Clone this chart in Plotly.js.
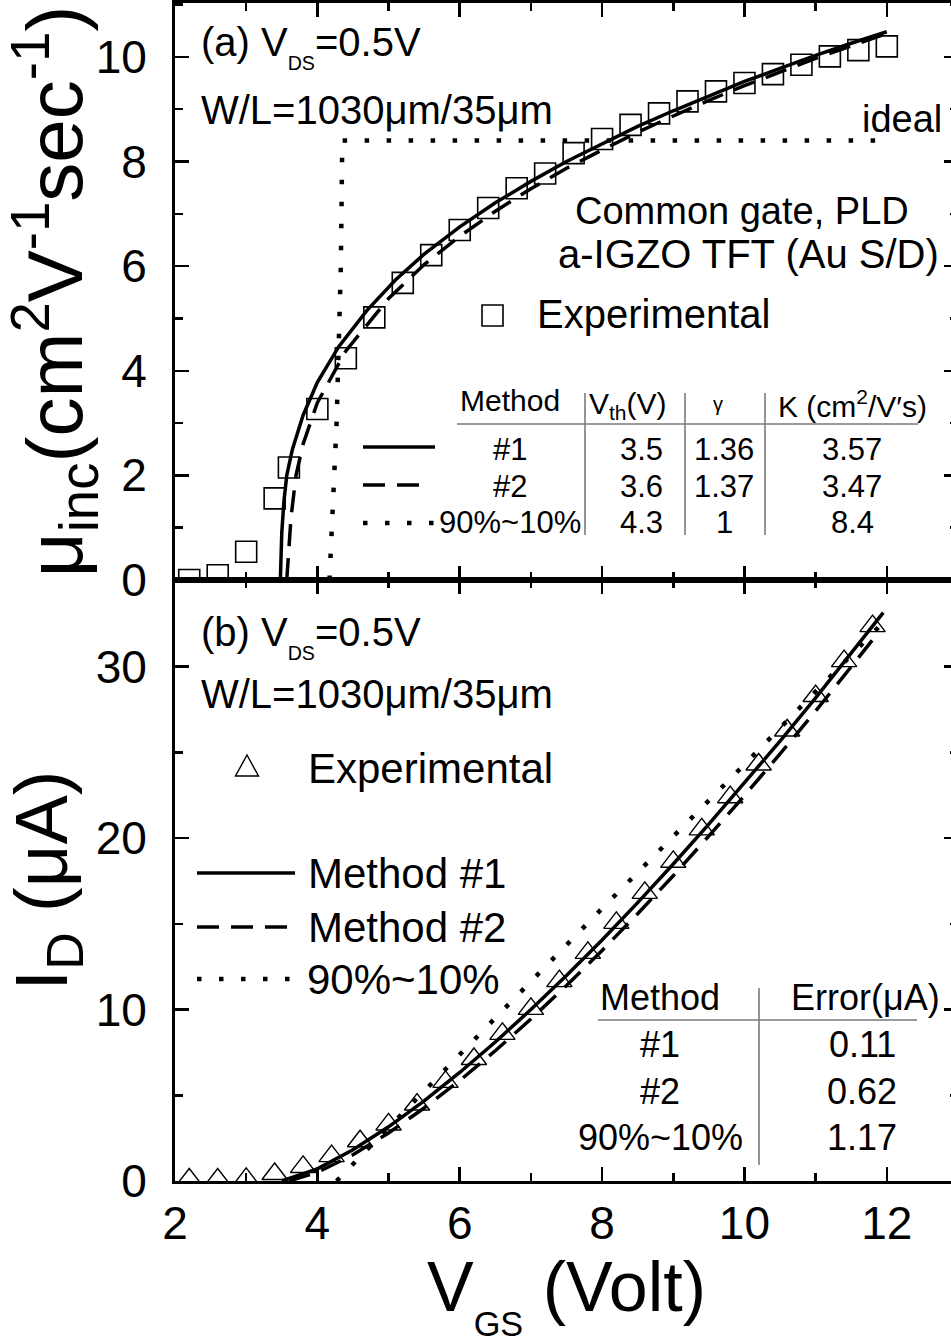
<!DOCTYPE html>
<html><head><meta charset="utf-8">
<script src="https://cdn.plot.ly/plotly-3.0.1.min.js"></script>
<style>html,body{margin:0;padding:0;overflow:hidden;background:#fff}</style>
</head><body>
<div id="chart" style="width:960px;height:1343px"></div>
<script>
// ---------- data ----------
// Panel (a): incremental mobility vs VGS
const muX   = [2.2,2.6,3.0,3.4,3.6,4.0,4.4,4.8,5.2,5.6,6.0,6.4,6.8,7.2,7.6,8.0,8.4,8.8,9.2,9.6,10.0,10.4,10.8,11.2,11.6,12.0];
const muExp = [0.0,0.09,0.54,1.56,2.15,3.27,4.24,5.02,5.68,6.21,6.69,7.11,7.49,7.77,8.16,8.43,8.70,8.92,9.15,9.34,9.50,9.67,9.85,10.01,10.13,10.20];
const mu1X  = [3.48,3.50,3.53,3.57,3.65,3.8,4.0,4.3,4.7,5.1,5.5,6.0,6.5,7.0,7.5,8.0,8.5,9.0,9.5,10.0,10.5,11.0,11.5,12.0];
const mu1   = [0,0.9,1.5,2.0,2.5,3.15,3.78,4.46,5.16,5.74,6.23,6.75,7.21,7.62,8.0,8.34,8.67,8.97,9.25,9.53,9.78,10.03,10.26,10.48];
const mu2X  = [3.57,3.60,3.63,3.70,3.8,4.0,4.4,5.0,5.5,6.0,6.5,7.0,7.5,8.0,8.5,9.0,9.5,10.0,10.5,11.0,11.5,12.0];
const mu2   = [0,0.6,1.2,2.0,2.6,3.39,4.38,5.38,6.03,6.57,7.05,7.48,7.87,8.22,8.56,8.87,9.17,9.45,9.71,9.97,10.21,10.45];
const mu3X  = [4.17,4.27,4.33,4.35,12.0];
const mu3   = [0,3.0,6.0,8.4,8.4];

// Panel (b): drain current vs VGS
const idX   = [2.2,2.6,3.0,3.4,3.8,4.2,4.6,5.0,5.4,5.8,6.2,6.6,7.0,7.4,7.8,8.2,8.6,9.0,9.4,9.8,10.2,10.6,11.0,11.4,11.8];
const idExp = [0.09,0.09,0.12,0.41,0.82,1.45,2.32,3.30,4.46,5.78,7.12,8.58,10.04,11.66,13.31,15.06,16.81,18.62,20.51,22.39,24.30,26.28,28.29,30.33,32.37];
const id1X  = [3.5,4.0,4.5,5.0,5.5,6.0,6.5,7.0,7.5,8.0,8.5,9.0,9.5,10.0,10.5,11.0,11.5,11.95];
const id1   = [0,0.71,1.82,3.16,4.67,6.33,8.11,10.0,11.99,14.06,16.24,18.49,20.82,23.21,25.66,28.18,30.78,33.16];
const id2X  = [3.6,4.0,4.5,5.0,5.5,6.0,6.5,7.0,7.5,8.0,8.5,9.0,9.5,10.0,10.5,11.0,11.5,11.9];
const id2   = [0,0.5,1.53,2.8,4.26,5.86,7.6,9.45,11.4,13.45,15.59,17.81,20.13,22.48,24.92,27.42,30.0,32.1];
const id3X  = [4.27,6.0,8.0,10.0,12.0];
const id3   = [0,7.4,15.9,24.3,32.8];

// table contents
const tabAHead = ['Method','V<sub>th</sub>(V)','γ','K (cm<sup>2</sup>/V′s)'];
const tabARows = [['#1','3.5','1.36','3.57'],['#2','3.6','1.37','3.47'],['90%~10%','4.3','1','8.4']];
const tabBHead = ['Method','Error(μA)'];
const tabBRows = [['#1','0.11'],['#2','0.62'],['90%~10%','1.17']];

// ---------- geometry helpers (pixel -> paper) ----------
const PL=175, PR=958, PT=3, PB=1181;
const px = x => (x-PL)/(PR-PL);
const py = y => (PB-y)/(PB-PT);
const SPLIT = py(580);
const FONT = 'Arial, "Liberation Sans", sans-serif';
const NB = '\u00A0';

const solid = {color:'black', width:3.5};
const dashed = {color:'black', width:3.5, dash:'22px,12px'};
const dotted = {color:'black', width:4.5, dash:'4.5px,17.5px'};

const traces = [
  {x:mu1X, y:mu1, xaxis:'x2', yaxis:'y2', mode:'lines', line:solid, name:'#1'},
  {x:mu2X, y:mu2, xaxis:'x2', yaxis:'y2', mode:'lines', line:dashed, name:'#2'},
  {x:mu3X, y:mu3, xaxis:'x2', yaxis:'y2', mode:'lines', line:dotted, name:'90%~10%'},
  {x:muX, y:muExp, xaxis:'x2', yaxis:'y2', mode:'markers', name:'Experimental',
   marker:{symbol:'square-open', size:21, color:'black', line:{width:1.6, color:'black'}}},
  {x:id1X, y:id1, xaxis:'x', yaxis:'y', mode:'lines', line:solid, name:'Method #1'},
  {x:id2X, y:id2, xaxis:'x', yaxis:'y', mode:'lines', line:dashed, name:'Method #2'},
  {x:id3X, y:id3, xaxis:'x', yaxis:'y', mode:'lines', line:dotted, name:'90%~10%'},
  {x:idX, y:idExp, xaxis:'x', yaxis:'y', mode:'markers', name:'Experimental',
   marker:{symbol:'triangle-up-open', size:22, color:'black', line:{width:1.4, color:'black'}}}
];

const axBase = {
  showline:true, linecolor:'black', linewidth:3, mirror:'allticks',
  ticks:'inside', ticklen:14, tickwidth:2.5, tickcolor:'black',
  showgrid:false, zeroline:false, automargin:false, fixedrange:true,
  tickfont:{family:FONT, size:46, color:'black'},
  ticklabelstandoff:16
};
const minor = (d) => ({ticks:'inside', ticklen:8, tickwidth:2.5, tickcolor:'black', dtick:d, showgrid:false});

const layout = {
  width:960, height:1343,
  margin:{l:PL, r:960-PR, t:PT, b:1343-PB},
  paper_bgcolor:'white', plot_bgcolor:'white',
  showlegend:false,
  font:{family:FONT, color:'black'},
  xaxis:Object.assign({}, axBase, {anchor:'y', domain:[0,1], range:[2,13], tick0:0, dtick:2, minor:minor(1),
    ticklabelstandoff:0,
    title:{text:NB+NB+'V<sub><sub>GS</sub></sub> (Volt)', font:{family:FONT, size:70, color:'black'}, standoff:16}}),
  yaxis:Object.assign({}, axBase, {anchor:'x', domain:[0,SPLIT], range:[0,35.06], tick0:0, dtick:10, minor:minor(5),
    title:{text:'I<sub>D</sub> (μA)'+NB+NB, font:{family:FONT, size:74, color:'black'}, standoff:4}}),
  xaxis2:Object.assign({}, axBase, {anchor:'y2', domain:[0,1], range:[2,13], tick0:0, dtick:2, minor:minor(1), showticklabels:false}),
  yaxis2:Object.assign({}, axBase, {anchor:'x2', domain:[SPLIT,1], range:[0,11.03], tick0:0, dtick:2, minor:minor(1),
    title:{text:'μ<sub>inc</sub>(cm<sup>2</sup>V<sup>-1</sup>sec<sup>-1</sup>)'+NB+NB, font:{family:FONT, size:78, color:'black'}, standoff:4}}),
  annotations:[], shapes:[]
};

function ann(text, x, y, size, xa){
  layout.annotations.push({text:text, xref:'paper', yref:'paper', x:px(x), y:py(y),
    xanchor:xa||'left', yanchor:'middle', showarrow:false,
    font:{family:FONT, size:size, color:'black'}});
}
function hline(x0,x1,y,line){ layout.shapes.push({type:'line', xref:'paper', yref:'paper', x0:px(x0), x1:px(x1), y0:py(y), y1:py(y), line:line}); }
function vline(x,y0,y1,line){ layout.shapes.push({type:'line', xref:'paper', yref:'paper', x0:px(x), x1:px(x), y0:py(y0), y1:py(y1), line:line}); }
const gray = {color:'#7a7a7a', width:1.6};

// ----- panel (a) text -----
ann('(a) V<sub><sub>DS</sub></sub>=0.5V', 199, 47, 40);
ann('W/L=1030μm/35μm', 199, 110, 40);
ann('ideal', 860, 119, 38);
ann('Common gate, PLD', 573, 211, 38);
ann('a-IGZO TFT (Au S/D)', 556, 254, 40);
ann('Experimental', 535, 314, 40);
layout.shapes.push({type:'rect', xref:'paper', yref:'paper', x0:px(482), x1:px(503), y0:py(305), y1:py(326), line:{color:'black', width:1.6}});
// table (a)
const colA = [510, 628, 718, 852];
ann(tabAHead[0], colA[0], 401, 30, 'center');
ann(tabAHead[1], colA[1], 405, 30, 'center');
ann(tabAHead[2], colA[2], 404, 20, 'center');
ann(tabAHead[3], colA[3], 404, 30, 'center');
const rowA = [450, 486, 522];
tabARows.forEach((r,i)=>{
  if(i<2) ann(r[0], colA[0], rowA[i], 31, 'center'); else ann(r[0], 583, rowA[i], 31, 'right');
  ann(r[1], 641, rowA[i], 31, 'center');
  ann(r[2], 724, rowA[i], 31, 'center');
  ann(r[3], 852, rowA[i], 31, 'center');
});
hline(457, 918, 424, gray);
vline(585, 393, 535, gray); vline(685, 393, 535, gray); vline(765, 393, 535, gray);
hline(363, 435, 447, solid);
hline(363, 423, 485, dashed);
hline(363, 437, 523, dotted);

// ----- panel (b) text -----
ann('(b) V<sub><sub>DS</sub></sub>=0.5V', 199, 637, 40);
ann('W/L=1030μm/35μm', 199, 694, 40);
ann('Experimental', 306, 768, 42);
layout.shapes.push({type:'path', xref:'paper', yref:'paper',
  path:'M '+px(247)+' '+py(755)+' L '+px(258.5)+' '+py(776)+' L '+px(235.5)+' '+py(776)+' Z', line:{color:'black', width:1.4}});
hline(197, 295, 873, solid);    ann('Method #1', 306, 873, 42);
hline(197, 292, 927, dashed);   ann('Method #2', 306, 927, 42);
hline(197, 292, 979, dotted);   ann('90%~10%', 305, 979, 42);
// table (b)
ann(tabBHead[0], 660, 997, 36, 'center');
ann(tabBHead[1], 865, 997, 36, 'center');
const rowB = [1044, 1091, 1137];
tabBRows.forEach((r,i)=>{ ann(r[0], 660, rowB[i], 36, 'center'); ann(r[1], 862, rowB[i], 36, 'center'); });
hline(598, 917, 1020, gray);
vline(759, 988, 1165, gray);

Plotly.newPlot('chart', traces, layout, {staticPlot:true, displayModeBar:false});
</script>
</body></html>
